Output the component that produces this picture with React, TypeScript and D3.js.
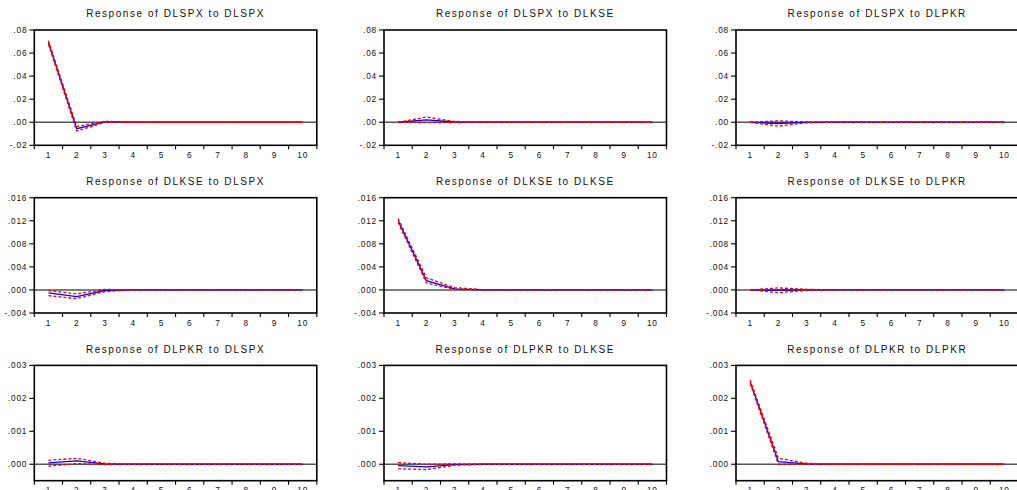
import React from "react";
import * as d3 from "d3";

const periods = ["1", "2", "3", "4", "5", "6", "7", "8", "9", "10"];

const titles = [
  ["Response of DLSPX to DLSPX", "Response of DLSPX to DLKSE", "Response of DLSPX to DLPKR"],
  ["Response of DLKSE to DLSPX", "Response of DLKSE to DLKSE", "Response of DLKSE to DLPKR"],
  ["Response of DLPKR to DLSPX", "Response of DLPKR to DLKSE", "Response of DLPKR to DLPKR"],
];

const rowDomains: [number, number][] = [
  [-0.02, 0.08],
  [-0.004, 0.016],
  [-0.0005, 0.003],
];
const rowTickValues = [
  [-0.02, 0.0, 0.02, 0.04, 0.06, 0.08],
  [-0.004, 0.0, 0.004, 0.008, 0.012, 0.016],
  [0.0, 0.001, 0.002, 0.003],
];
const rowTickLabels = [
  ["-.02", ".00", ".02", ".04", ".06", ".08"],
  ["-.004", ".000", ".004", ".008", ".012", ".016"],
  [".000", ".001", ".002", ".003"],
];

// Response (blue) and ±2 S.E. bands (red dashed)
const resp11 = [0.0692, -0.0056, 0.0003, 0.0, 0.0, 0.0, 0.0, 0.0, 0.0, 0.0];
const low11 = [0.0676, -0.0076, -0.0002, 0.0, 0.0, 0.0, 0.0, 0.0, 0.0, 0.0];
const up11 = [0.0708, -0.0036, 0.0008, 0.0001, 0.0, 0.0, 0.0, 0.0, 0.0, 0.0];

const resp12 = [0.0, 0.0021, 0.0002, 0.0, 0.0, 0.0, 0.0, 0.0, 0.0, 0.0];
const low12 = [0.0, -0.0003, -0.0003, 0.0, 0.0, 0.0, 0.0, 0.0, 0.0, 0.0];
const up12 = [0.0, 0.0045, 0.0007, 0.0001, 0.0, 0.0, 0.0, 0.0, 0.0, 0.0];

const resp13 = [0.0, -0.0011, -0.0001, 0.0, 0.0, 0.0, 0.0, 0.0, 0.0, 0.0];
const low13 = [0.0, -0.0034, -0.0005, 0.0, 0.0, 0.0, 0.0, 0.0, 0.0, 0.0];
const up13 = [0.0, 0.0012, 0.0003, 0.0, 0.0, 0.0, 0.0, 0.0, 0.0, 0.0];

const resp21 = [-0.0005, -0.00115, -0.0001, 0.0, 0.0, 0.0, 0.0, 0.0, 0.0, 0.0];
const low21 = [-0.001, -0.0015, -0.0003, 0.0, 0.0, 0.0, 0.0, 0.0, 0.0, 0.0];
const up21 = [-0.0001, -0.0007, 0.0001, 0.0, 0.0, 0.0, 0.0, 0.0, 0.0, 0.0];

const resp22 = [0.01205, 0.0016, 0.0002, 0.00002, 0.0, 0.0, 0.0, 0.0, 0.0, 0.0];
const low22 = [0.0117, 0.0012, 0.0001, 0.0, 0.0, 0.0, 0.0, 0.0, 0.0, 0.0];
const up22 = [0.0124, 0.0021, 0.0004, 0.00005, 0.0, 0.0, 0.0, 0.0, 0.0, 0.0];

const resp23 = [0.0, -0.00005, 0.00002, 0.0, 0.0, 0.0, 0.0, 0.0, 0.0, 0.0];
const low23 = [0.0, -0.00047, -0.0001, 0.0, 0.0, 0.0, 0.0, 0.0, 0.0, 0.0];
const up23 = [0.0, 0.00035, 0.00012, 0.0, 0.0, 0.0, 0.0, 0.0, 0.0, 0.0];

const resp31 = [0.00004, 0.0001, 0.00001, 0.0, 0.0, 0.0, 0.0, 0.0, 0.0, 0.0];
const low31 = [-0.00006, 0.00002, -0.00001, 0.0, 0.0, 0.0, 0.0, 0.0, 0.0, 0.0];
const up31 = [0.00012, 0.00018, 0.00003, 0.0, 0.0, 0.0, 0.0, 0.0, 0.0, 0.0];

const resp32 = [-0.00004, -0.00008, -0.00001, 0.0, 0.0, 0.0, 0.0, 0.0, 0.0, 0.0];
const low32 = [-0.00014, -0.00016, -0.00003, 0.0, 0.0, 0.0, 0.0, 0.0, 0.0, 0.0];
const up32 = [0.00005, 0.0, 0.00001, 0.0, 0.0, 0.0, 0.0, 0.0, 0.0, 0.0];

const resp33 = [0.0025, 0.00008, 0.00001, 0.0, 0.0, 0.0, 0.0, 0.0, 0.0, 0.0];
const low33 = [0.00245, 0.0, 0.0, 0.0, 0.0, 0.0, 0.0, 0.0, 0.0, 0.0];
const up33 = [0.00256, 0.00018, 0.00003, 0.0, 0.0, 0.0, 0.0, 0.0, 0.0, 0.0];

const panelData = [
  [
    [resp11, low11, up11],
    [resp12, low12, up12],
    [resp13, low13, up13],
  ],
  [
    [resp21, low21, up21],
    [resp22, low22, up22],
    [resp23, low23, up23],
  ],
  [
    [resp31, low31, up31],
    [resp32, low32, up32],
    [resp33, low33, up33],
  ],
];

const colLefts = [34.3, 384, 736];
const rowTops = [30, 197.7, 365.4];
const PW = 282.5;
const PH = 115.3;
const FONT = "'Liberation Sans', Arial, Helvetica, sans-serif";

function Panel({ r, c }: { r: number; c: number }) {
  const left = colLefts[c];
  const top = rowTops[r];
  const x = d3.scaleBand<string>().domain(periods).range([0, PW]).padding(0);
  const y = d3.scaleLinear().domain(rowDomains[r]).range([PH, 0]);
  const cx = (p: string) => (x(p) as number) + x.bandwidth() / 2;
  const line = d3
    .line<number>()
    .x((_, i) => cx(periods[i]))
    .y((d) => y(d));
  const [resp, low, up] = panelData[r][c];
  const edges = periods.map((p) => x(p) as number).concat([PW]);
  return (
    <g transform={`translate(${left},${top})`}>
      <text
        x={PW / 2}
        y={-12.8}
        textAnchor="middle"
        fontFamily={FONT}
        fontSize={10}
        letterSpacing={1.55}
        fill="#111"
      >
        {titles[r][c]}
      </text>
      {/* zero line */}
      <line x1={0} x2={PW} y1={y(0)} y2={y(0)} stroke="#555" strokeWidth={1.4} />
      {/* response */}
      <path d={line(resp) || ""} fill="none" stroke="#0000ff" strokeWidth={1.3} />
      {/* bands */}
      <path d={line(low) || ""} fill="none" stroke="#ff0000" strokeWidth={1.3} strokeDasharray="3,2" />
      <path d={line(up) || ""} fill="none" stroke="#ff0000" strokeWidth={1.3} strokeDasharray="3,2" />
      {/* frame */}
      <rect x={0} y={0} width={PW} height={PH} fill="none" stroke="#000" strokeWidth={1.6} />
      {/* y ticks */}
      {rowTickValues[r].map((v, i) => (
        <g key={i}>
          <line x1={-5} x2={0} y1={y(v)} y2={y(v)} stroke="#000" strokeWidth={1.1} />
          <text
            x={-7}
            y={y(v)}
            dy="0.35em"
            textAnchor="end"
            fontFamily={FONT}
            fontSize={8.3}
            letterSpacing={0.8}
            fill="#111"
          >
            {rowTickLabels[r][i]}
          </text>
        </g>
      ))}
      {/* x ticks at band edges */}
      {edges.map((e, i) => (
        <line key={i} x1={e} x2={e} y1={PH} y2={PH + 4} stroke="#000" strokeWidth={1.1} />
      ))}
      {periods.map((p) => (
        <text
          key={p}
          x={cx(p)}
          y={PH + 12.7}
          textAnchor="middle"
          fontFamily={FONT}
          fontSize={8.3}
          letterSpacing={0.8}
          fill="#111"
        >
          {p}
        </text>
      ))}
    </g>
  );
}

export default function App() {
  return (
    <svg
      width={1017}
      height={490}
      style={{ position: "absolute", left: 0, top: 0, background: "#fff" }}
    >
      <rect x={0} y={0} width={1017} height={490} fill="#fff" />
      {[0, 1, 2].map((r) => [0, 1, 2].map((c) => <Panel key={`${r}-${c}`} r={r} c={c} />))}
    </svg>
  );
}
